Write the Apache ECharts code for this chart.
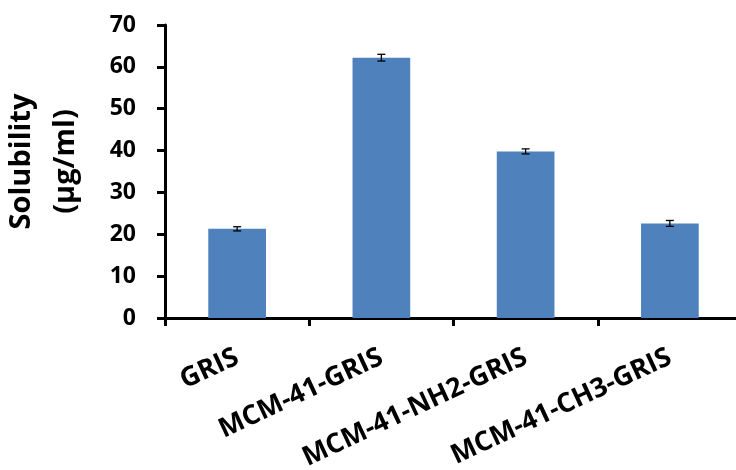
<!DOCTYPE html>
<html><head><meta charset="utf-8">
<script src="https://cdn.jsdelivr.net/npm/echarts@6/dist/echarts.min.js"></script>
<style>html,body{margin:0;padding:0;background:#fff}#c{width:736px;height:470px}</style>
</head><body><div id="c"></div>
<script>
const categories = ["GRIS", "MCM-41-GRIS", "MCM-41-NH2-GRIS", "MCM-41-CH3-GRIS"];
const values = [21.3, 62.2, 39.8, 22.6];
const errors = [0.5, 0.8, 0.6, 0.7];
const yTicks = [0, 10, 20, 30, 40, 50, 60, 70];

const chart = echarts.init(document.getElementById('c'));
const FONT = 'Open Sans';
chart.setOption({
  animation: false,
  grid: {left: 165, right: -6, top: 25, bottom: 152, containLabel: false, outerBoundsMode: 'none'},
  xAxis: {
    type: 'category', data: categories,
    axisLine: {lineStyle: {color: '#000', width: 3}},
    axisTick: {show: true, length: 8, lineStyle: {color: '#000', width: 3}},
    axisLabel: {rotate: 25, margin: 38, color: '#000', fontFamily: FONT, fontWeight: 'bold', fontSize: 27, interval: 0}
  },
  yAxis: {
    type: 'value', min: 0, max: 70, interval: 10,
    name: 'Solubility\n(µg/ml)', nameLocation: 'middle', nameGap: 77, nameRotate: 90,
    nameTextStyle: {color: '#000', fontFamily: FONT, fontWeight: 'bold', fontSize: 29, lineHeight: 44, padding: [0, 0, 0, 20]},
    axisLine: {show: true, lineStyle: {color: '#000', width: 3}},
    axisTick: {show: true, inside: false, length: 8, lineStyle: {color: '#000', width: 3}},
    axisLabel: {color: '#000', fontFamily: FONT, fontWeight: 'bold', fontSize: 23, margin: 29,
      formatter: v => yTicks.includes(v) ? String(v) : ''},
    splitLine: {show: false}
  },
  series: [
    {type: 'bar', data: values, barWidth: '40%', itemStyle: {color: '#4f81bd'}},
    {type: 'custom', z: 10,
     data: values.map((v, i) => [i, v - errors[i], v + errors[i]]),
     renderItem: (params, api) => {
       const lo = api.coord([api.value(0), api.value(1)]);
       const hi = api.coord([api.value(0), api.value(2)]);
       const w = 4;
       const st = {stroke: '#000', lineWidth: 1.3};
       return {type: 'group', children: [
         {type: 'line', shape: {x1: lo[0], y1: lo[1], x2: hi[0], y2: hi[1]}, style: st},
         {type: 'line', shape: {x1: lo[0]-w, y1: lo[1], x2: lo[0]+w, y2: lo[1]}, style: st},
         {type: 'line', shape: {x1: hi[0]-w, y1: hi[1], x2: hi[0]+w, y2: hi[1]}, style: st}
       ]};
     }}
  ]
});
</script></body></html>
